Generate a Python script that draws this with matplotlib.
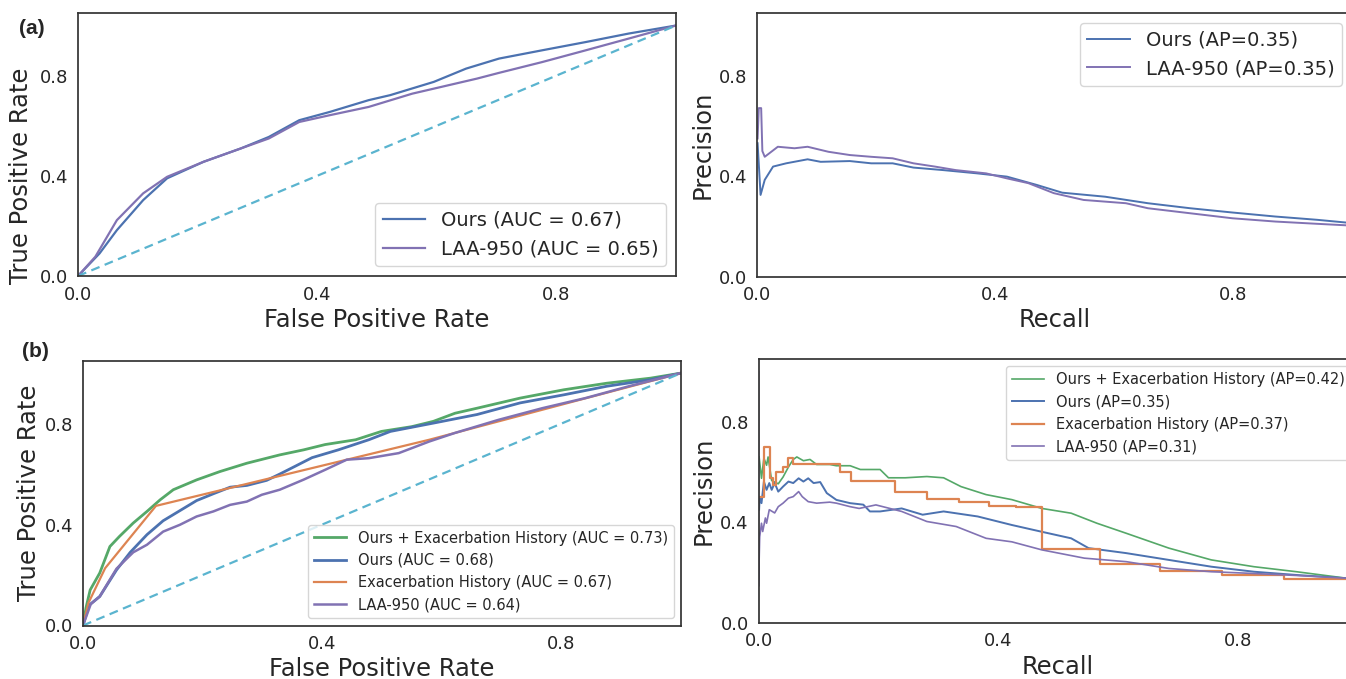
import matplotlib
matplotlib.use("Agg")
import matplotlib.pyplot as plt

# ---------------- data ----------------
# (a) ROC
roc_a_ours_fpr = [0, 0.036, 0.065, 0.109, 0.149, 0.21, 0.272, 0.319, 0.37, 0.421, 0.486, 0.522, 0.595, 0.649, 0.704, 0.776, 0.849, 0.921, 1.0]
roc_a_ours_tpr = [0, 0.09, 0.183, 0.303, 0.39, 0.456, 0.509, 0.555, 0.622, 0.655, 0.702, 0.722, 0.775, 0.828, 0.868, 0.901, 0.934, 0.968, 1.0]
roc_a_laa_fpr = [0, 0.029, 0.065, 0.109, 0.149, 0.21, 0.272, 0.319, 0.37, 0.421, 0.486, 0.559, 0.631, 0.667, 0.704, 0.776, 0.849, 0.921, 1.0]
roc_a_laa_tpr = [0, 0.077, 0.223, 0.33, 0.396, 0.456, 0.509, 0.549, 0.615, 0.642, 0.675, 0.728, 0.768, 0.788, 0.811, 0.854, 0.901, 0.948, 1.0]
roc_a_labels = ["Ours (AUC = 0.67)", "LAA-950 (AUC = 0.65)"]

# (a) PR
pr_a_ours_rec = [0.001, 0.006, 0.013, 0.027, 0.049, 0.085, 0.107, 0.156, 0.192, 0.228, 0.263, 0.313, 0.37, 0.42, 0.47, 0.513, 0.585, 0.657, 0.728, 0.799, 0.871, 0.941, 0.99, 1.0]
pr_a_ours_prec = [0.531, 0.325, 0.385, 0.438, 0.451, 0.467, 0.457, 0.46, 0.451, 0.451, 0.434, 0.424, 0.411, 0.398, 0.365, 0.334, 0.318, 0.292, 0.272, 0.255, 0.239, 0.226, 0.215, 0.213]
pr_a_laa_rec = [0.001, 0.003, 0.007, 0.009, 0.013, 0.035, 0.063, 0.085, 0.12, 0.156, 0.192, 0.228, 0.263, 0.299, 0.334, 0.385, 0.42, 0.456, 0.499, 0.549, 0.62, 0.657, 0.728, 0.799, 0.871, 0.941, 0.99, 1.0]
pr_a_laa_prec = [0.55, 0.671, 0.671, 0.50, 0.477, 0.517, 0.511, 0.517, 0.497, 0.484, 0.477, 0.471, 0.451, 0.438, 0.424, 0.411, 0.391, 0.372, 0.332, 0.305, 0.292, 0.272, 0.252, 0.232, 0.219, 0.21, 0.204, 0.203]
pr_a_labels = ["Ours (AP=0.35)", "LAA-950 (AP=0.35)"]

# (b) ROC
roc_b_comb_fpr = [0, 0.005, 0.012, 0.028, 0.045, 0.061, 0.084, 0.107, 0.129, 0.151, 0.19, 0.229, 0.274, 0.329, 0.369, 0.405, 0.456, 0.499, 0.55, 0.586, 0.622, 0.659, 0.731, 0.804, 0.876, 0.949, 1.0]
roc_b_comb_tpr = [0, 0.07, 0.141, 0.208, 0.313, 0.353, 0.406, 0.452, 0.498, 0.538, 0.577, 0.61, 0.643, 0.676, 0.696, 0.717, 0.736, 0.769, 0.788, 0.809, 0.841, 0.861, 0.901, 0.934, 0.96, 0.98, 1.0]
roc_b_ours_fpr = [0, 0.01, 0.028, 0.056, 0.079, 0.107, 0.134, 0.162, 0.19, 0.218, 0.246, 0.274, 0.307, 0.329, 0.354, 0.383, 0.427, 0.478, 0.514, 0.586, 0.659, 0.731, 0.804, 0.876, 0.949, 1.0]
roc_b_ours_tpr = [0, 0.08, 0.115, 0.22, 0.29, 0.36, 0.415, 0.455, 0.495, 0.522, 0.548, 0.555, 0.575, 0.6, 0.63, 0.665, 0.696, 0.736, 0.769, 0.802, 0.836, 0.882, 0.914, 0.948, 0.974, 1.0]
roc_b_exac_fpr = [0, 0.009, 0.037, 0.122, 0.579, 0.84, 1.0]
roc_b_exac_tpr = [0, 0.089, 0.227, 0.474, 0.736, 0.9, 1.0]
roc_b_laa_fpr = [0, 0.013, 0.028, 0.056, 0.084, 0.107, 0.134, 0.162, 0.19, 0.218, 0.246, 0.274, 0.299, 0.329, 0.369, 0.405, 0.441, 0.478, 0.528, 0.579, 0.622, 0.695, 0.768, 0.84, 0.913, 1.0]
roc_b_laa_tpr = [0, 0.085, 0.115, 0.225, 0.29, 0.32, 0.372, 0.399, 0.432, 0.452, 0.478, 0.491, 0.518, 0.538, 0.578, 0.617, 0.657, 0.663, 0.683, 0.729, 0.763, 0.815, 0.861, 0.901, 0.948, 1.0]
roc_b_labels = ["Ours + Exacerbation History (AUC = 0.73)", "Ours (AUC = 0.68)",
                "Exacerbation History (AUC = 0.67)", "LAA-950 (AUC = 0.64)"]

# (b) PR
pr_b_comb_rec = [0.001, 0.005, 0.009, 0.0135, 0.016, 0.022, 0.027, 0.033, 0.041, 0.05, 0.058, 0.064, 0.075, 0.086, 0.097, 0.119, 0.13, 0.153, 0.17, 0.203, 0.217, 0.245, 0.281, 0.309, 0.338, 0.38, 0.423, 0.473, 0.522, 0.565, 0.614, 0.685, 0.756, 0.827, 0.898, 0.982, 1.0]
pr_b_comb_prec = [0.66, 0.575, 0.655, 0.627, 0.66, 0.566, 0.56, 0.553, 0.58, 0.62, 0.65, 0.66, 0.645, 0.65, 0.63, 0.63, 0.625, 0.625, 0.61, 0.61, 0.577, 0.577, 0.582, 0.577, 0.542, 0.51, 0.49, 0.455, 0.436, 0.396, 0.356, 0.297, 0.25, 0.223, 0.203, 0.177, 0.173]
pr_b_ours_rec = [0.001, 0.002, 0.005, 0.009, 0.0135, 0.018, 0.022, 0.027, 0.033, 0.041, 0.05, 0.058, 0.067, 0.075, 0.083, 0.092, 0.103, 0.114, 0.13, 0.153, 0.175, 0.186, 0.203, 0.239, 0.274, 0.309, 0.366, 0.423, 0.473, 0.522, 0.551, 0.614, 0.685, 0.756, 0.827, 0.898, 0.982, 1.0]
pr_b_ours_prec = [0.45, 0.50, 0.476, 0.562, 0.529, 0.556, 0.529, 0.556, 0.522, 0.542, 0.562, 0.556, 0.575, 0.562, 0.575, 0.556, 0.56, 0.516, 0.489, 0.476, 0.47, 0.443, 0.443, 0.455, 0.43, 0.443, 0.423, 0.389, 0.362, 0.336, 0.297, 0.277, 0.25, 0.223, 0.203, 0.19, 0.177, 0.173]
pr_b_exac_rec = [0.0, 0.009, 0.019, 0.024, 0.03, 0.041, 0.05, 0.058, 0.136, 0.155, 0.228, 0.281, 0.334, 0.384, 0.43, 0.473, 0.57, 0.671, 0.773, 0.878, 1.0]
pr_b_exac_prec = [0.50, 0.70, 0.575, 0.55, 0.60, 0.62, 0.656, 0.633, 0.60, 0.565, 0.52, 0.493, 0.48, 0.466, 0.459, 0.292, 0.234, 0.205, 0.188, 0.174, 0.174]
pr_b_laa_rec = [0.0, 0.0, 0.002, 0.005, 0.007, 0.0115, 0.0135, 0.018, 0.027, 0.033, 0.041, 0.05, 0.058, 0.067, 0.073, 0.083, 0.097, 0.119, 0.13, 0.153, 0.168, 0.196, 0.239, 0.281, 0.33, 0.38, 0.423, 0.473, 0.544, 0.614, 0.685, 0.756, 0.827, 0.898, 0.982, 1.0]
pr_b_laa_prec = [1.0, 0.145, 0.342, 0.396, 0.363, 0.417, 0.396, 0.45, 0.437, 0.462, 0.476, 0.496, 0.502, 0.522, 0.502, 0.482, 0.476, 0.48, 0.476, 0.462, 0.455, 0.469, 0.443, 0.403, 0.383, 0.336, 0.322, 0.29, 0.257, 0.243, 0.216, 0.203, 0.196, 0.188, 0.177, 0.173]
pr_b_labels = ["Ours + Exacerbation History (AP=0.42)", "Ours (AP=0.35)",
               "Exacerbation History (AP=0.37)", "LAA-950 (AP=0.31)"]

tick_vals = [0.0, 0.4, 0.8]

# ---------------- style ----------------
BLUE = "#4C72B0"
ORANGE = "#DD8452"
GREEN = "#55A868"
PURPLE = "#8172B3"
CYAN = "#5AB4CF"
DARK = "#262626"

plt.rcParams.update({
    "font.family": ["DejaVu Sans"],
    "text.color": DARK,
    "axes.labelcolor": DARK,
    "xtick.color": DARK,
    "ytick.color": DARK,
    "axes.edgecolor": "#333333",
    "axes.linewidth": 1.25,
    "legend.edgecolor": "0.8",
})

W, H = 1346, 679
fig = plt.figure(figsize=(W / 100, H / 100), dpi=100)


def add_ax(left, top, right, bottom):
    return fig.add_axes([left / W, 1 - bottom / H, (right - left) / W, (bottom - top) / H])


def style(ax, xlabel, ylabel):
    ax.set_xlim(0, 1.0)
    ax.set_ylim(0, 1.05)
    ax.set_xticks(tick_vals)
    ax.set_yticks(tick_vals)
    ax.set_xticklabels(["%.1f" % v for v in tick_vals])
    ax.set_yticklabels(["%.1f" % v for v in tick_vals])
    ax.tick_params(length=0, labelsize=13, pad=7)
    ax.set_xlabel(xlabel, fontsize=17.5, labelpad=3)
    ax.set_ylabel(ylabel, fontsize=17.5, labelpad=3)


# (a) ROC
ax1 = add_ax(78, 13, 676, 276)
ax1.plot(roc_a_ours_fpr, roc_a_ours_tpr, color=BLUE, lw=1.6, label=roc_a_labels[0])
ax1.plot(roc_a_laa_fpr, roc_a_laa_tpr, color=PURPLE, lw=1.6, label=roc_a_labels[1])
ax1.plot([0, 1], [0, 1], color=CYAN, lw=1.6, ls="--", dashes=(4, 2.5))
style(ax1, "False Positive Rate", "True Positive Rate")
ax1.yaxis.set_label_coords(-0.075, 0.38)
ax1.legend(loc="lower right", fontsize=14, handlelength=2.2)

# (a) PR
ax2 = add_ax(757, 13, 1352, 276.5)
ax2.plot(pr_a_ours_rec, pr_a_ours_prec, color=BLUE, lw=1.4, label=pr_a_labels[0])
ax2.plot(pr_a_laa_rec, pr_a_laa_prec, color=PURPLE, lw=1.4, label=pr_a_labels[1])
style(ax2, "Recall", "Precision")
ax2.legend(loc="upper right", fontsize=14, handlelength=2.2)

# (b) ROC
ax3 = add_ax(83, 360.5, 681, 625.5)
ax3.plot(roc_b_comb_fpr, roc_b_comb_tpr, color=GREEN, lw=2.0, label=roc_b_labels[0])
ax3.plot(roc_b_ours_fpr, roc_b_ours_tpr, color=BLUE, lw=2.0, label=roc_b_labels[1])
ax3.plot(roc_b_exac_fpr, roc_b_exac_tpr, color=ORANGE, lw=1.6, label=roc_b_labels[2])
ax3.plot(roc_b_laa_fpr, roc_b_laa_tpr, color=PURPLE, lw=1.8, label=roc_b_labels[3])
ax3.plot([0, 1], [0, 1], color=CYAN, lw=1.6, ls="--", dashes=(4, 2.5))
style(ax3, "False Positive Rate", "True Positive Rate")
ax3.legend(loc="lower right", fontsize=10.5, handlelength=2.2)

# (b) PR
ax4 = add_ax(758.5, 359, 1357.5, 622.7)
ax4.plot(pr_b_comb_rec, pr_b_comb_prec, color=GREEN, lw=1.2, label=pr_b_labels[0])
ax4.plot(pr_b_ours_rec, pr_b_ours_prec, color=BLUE, lw=1.4, label=pr_b_labels[1])
ax4.step(pr_b_exac_rec, pr_b_exac_prec, where="post", color=ORANGE, lw=1.6, label=pr_b_labels[2])
ax4.plot(pr_b_laa_rec, pr_b_laa_prec, color=PURPLE, lw=1.2, label=pr_b_labels[3])
style(ax4, "Recall", "Precision")
ax4.legend(loc="upper right", fontsize=10.5, handlelength=2.2)

fig.text(32 / W, 1 - 29 / H, "(a)", fontsize=15, fontweight="bold",
         family=["Liberation Sans", "DejaVu Sans"], ha="center", va="center")
fig.text(35 / W, 1 - 351 / H, "(b)", fontsize=15, fontweight="bold",
         family=["Liberation Sans", "DejaVu Sans"], ha="center", va="center")

fig.savefig("out.png", dpi=100)
